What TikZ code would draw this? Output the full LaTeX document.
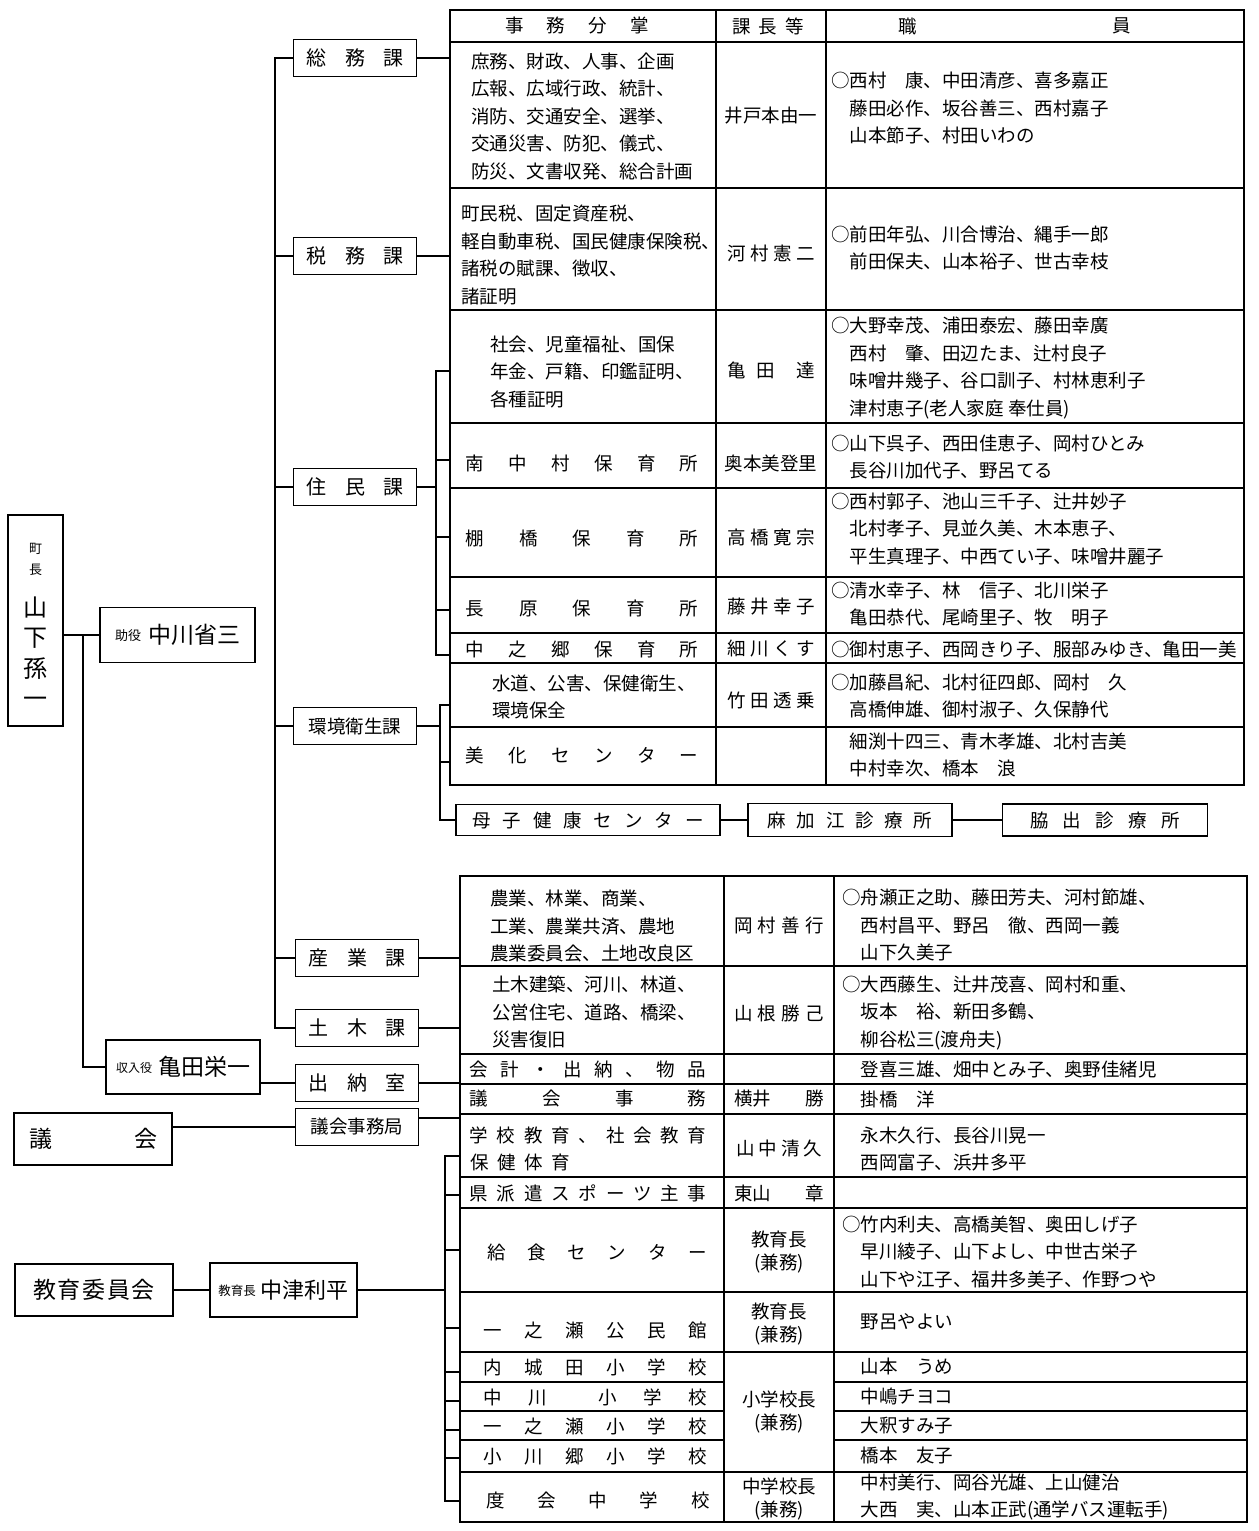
\documentclass[tikz,border=0pt]{standalone}
\usepackage{fontspec}
\setmainfont{Noto Sans CJK JP}
\newcommand\tb{\fontsize{18.5}{27.5}\selectfont}
% spread the characters of #1 over a width #2
\makeatletter
\newcommand\sprd[2]{\makebox[#2][l]{\sprd@a#1\@nil}}
\def\sprd@a#1#2\@nil{#1\ifx\relax#2\relax\else\hfill\sprd@a#2\@nil\fi}
\makeatother
\tikzset{
  ln/.style={line width=1.5pt, line cap=rect},
  box/.style={draw, line width=1.5pt, inner sep=0pt},
  dept/.style={box, minimum width=123, minimum height=37, font=\fontsize{20}{20}\selectfont},
  tx/.style={inner sep=0pt, font=\tb},
  lt/.style={tx, anchor=west, align=left},
  ch/.style={inner sep=0pt, align=center, font=\fontsize{18.5}{23}\selectfont},
}
\begin{document}
\begin{tikzpicture}[x=1pt,y=-1pt]
\useasboundingbox (0,0) rectangle (1258,1531);

% Mayor, deputy, treasurer
\node[box, minimum width=55, minimum height=211] (chocho) at (35.5,620.5) {};
\node[inner sep=0pt, align=center, font=\fontsize{13}{21}\selectfont] (chocho-t) at (35.5,559) {町\\長};
\node[inner sep=0pt, align=center, font=\fontsize{24}{30.5}\selectfont] (chocho-n) at (35.5,652) {山\\下\\孫\\一};
\node[box, minimum width=155, minimum height=55, font=\fontsize{23}{23}\selectfont] (joyaku) at (177.5,635)
  {\raisebox{3pt}{\fontsize{13}{13}\selectfont 助役}\hspace{7pt}中川省三};
\node[box, minimum width=154, minimum height=54, font=\fontsize{23}{23}\selectfont] (shunyu) at (183,1067)
  {\raisebox{3pt}{\fontsize{12}{12}\selectfont 収入役}\hspace{6pt}亀田栄一};
\coordinate (cj) at (83,635);
\draw[ln] (chocho.east |- joyaku.west) -- (joyaku.west);
\draw[ln] (cj) |- (shunyu.west);

% Assembly and board of education
\node[box, minimum width=158, minimum height=52, font=\fontsize{23}{23}\selectfont] (gikai) at (93,1139)
  {\makebox[128pt][l]{議\hfill 会}};
\node[box, minimum width=158, minimum height=52, font=\fontsize{23}{23}\selectfont] (kyoiku) at (94,1290)
  {\sprd{教育委員会}{122pt}};
\node[box, minimum width=147, minimum height=54, font=\fontsize{22}{22}\selectfont] (kyoikucho) at (283.5,1290)
  {\raisebox{3pt}{\fontsize{12.5}{12.5}\selectfont 教育長}\hspace{5pt}中津利平};
\draw[ln] (kyoiku.east) -- (kyoikucho.west);

% Departments
\node[dept] (somu) at (355,58) {\sprd{総務課}{97pt}};
\node[dept] (zeimu) at (355,256) {\sprd{税務課}{97pt}};
\node[dept] (jumin) at (355,487) {\sprd{住民課}{97pt}};
\node[dept, font=\fontsize{18.5}{18.5}\selectfont] (kankyo) at (355,726) {環境衛生課};
\node[dept] (sangyo) at (357,958) {\sprd{産業課}{97pt}};
\node[dept] (doboku) at (357,1028) {\sprd{土木課}{97pt}};
\node[dept] (suito) at (357,1083) {\sprd{出納室}{97pt}};
\node[dept, font=\fontsize{18.5}{18.5}\selectfont] (gjk) at (357,1127) {議会事務局};
\coordinate (spbot) at (275,1028);
\draw[ln] (somu.west) -| (spbot) -- (doboku.west);
\foreach \d in {zeimu,jumin,kankyo,sangyo}
  \draw[ln] (\d.west) -- (\d.west -| spbot);
\draw[ln] (shunyu.east |- suito.west) -- (suito.west);
\draw[ln] (gikai.east |- gjk.west) -- (gjk.west);

% Upper table
\coordinate (up-tl) at (450,10);
\draw[ln] (450,10) rectangle (1244,785);
\foreach \y in {42,188,310,423,488,577,633,663,727}
  \draw[ln] (450,\y) -- (1244,\y);
\draw[ln] (716,10) -- (716,785) (826,10) -- (826,785);

\node[tx] (hd1) at (577,26) {\sprd{事務分掌}{144pt}};
\node[tx] (hd2) at (768,26) {\sprd{課長等}{72pt}};
\node[tx] (hd3) at (908,26) {職};
\node[tx] (hd4) at (1122,26) {員};

\node[lt] (somu-a) at (471,116) {庶務、財政、人事、企画\\広報、広域行政、統計、\\消防、交通安全、選挙、\\交通災害、防犯、儀式、\\防災、文書収発、総合計画};
\node[tx] (somu-b) at (771,116) {井戸本由一};
\node[lt] (somu-c) at (831,108) {○西村　康、中田清彦、喜多嘉正\\　藤田必作、坂谷善三、西村嘉子\\　山本節子、村田いわの};

\node[lt] (zeimu-a) at (461,255) {町民税、固定資産税、\\軽自動車税、国民健康保険税、\\諸税の賦課、徴収、\\諸証明};
\node[tx] (zeimu-b) at (771,253) {\sprd{河村憲二}{88pt}};
\node[lt] (zeimu-c) at (831,248) {○前田年弘、川合博治、縄手一郎\\　前田保夫、山本裕子、世古幸枝};

\node[lt] (jumin-a) at (490,372) {社会、児童福祉、国保\\年金、戸籍、印鑑証明、\\各種証明};
\node[tx] (jumin-b) at (771,370) {\makebox[88pt][l]{亀\hfill 田\hfill\hfill 達}};
\node[lt] (jumin-c) at (831,368) {○大野幸茂、浦田泰宏、藤田幸廣\\　西村　肇、田辺たま、辻村良子\\　味噌井幾子、谷口訓子、村林恵利子\\　津村恵子(老人家庭 奉仕員)};

\node[tx] (hoiku1-a) at (582,463) {\sprd{南中村保育所}{233pt}};
\node[tx] (hoiku1-b) at (771,463) {奥本美登里};
\node[lt] (hoiku1-c) at (831,457) {○山下呉子、西田佳恵子、岡村ひとみ\\　長谷川加代子、野呂てる};

\node[tx] (hoiku2-a) at (582,538) {\sprd{棚橋保育所}{233pt}};
\node[tx] (hoiku2-b) at (771,537) {\sprd{高橋寛宗}{88pt}};
\node[lt] (hoiku2-c) at (831,529) {○西村郭子、池山三千子、辻井妙子\\　北村孝子、見並久美、木本恵子、\\　平生真理子、中西てい子、味噌井麗子};

\node[tx] (hoiku3-a) at (582,608) {\sprd{長原保育所}{233pt}};
\node[tx] (hoiku3-b) at (771,607) {\sprd{藤井幸子}{88pt}};
\node[lt] (hoiku3-c) at (831,604) {○清水幸子、林　信子、北川栄子\\　亀田恭代、尾崎里子、牧　明子};

\node[tx] (hoiku4-a) at (582,649) {\sprd{中之郷保育所}{233pt}};
\node[tx] (hoiku4-b) at (771,649) {\sprd{細川くす}{88pt}};
\node[lt] (hoiku4-c) at (831,649) {○御村恵子、西岡きり子、服部みゆき、亀田一美};

\node[lt] (kankyo-a) at (492,697) {水道、公害、保健衛生、\\環境保全};
\node[tx] (kankyo-b) at (771,700) {\sprd{竹田透乗}{88pt}};
\node[lt] (kankyo-c) at (831,696) {○加藤昌紀、北村征四郎、岡村　久\\　高橋伸雄、御村淑子、久保静代};
\node[tx] (bika-a) at (582,755) {\sprd{美化センター}{233pt}};
\node[lt] (bika-c) at (831,755) {　細渕十四三、青木孝雄、北村吉美\\　中村幸次、橋本　浪};

\draw[ln] (somu.east) -- (somu.east -| up-tl);
\draw[ln] (zeimu.east) -- (zeimu.east -| up-tl);

% 住民課 bracket
\coordinate (jb) at (436,487);
\draw[ln] (jumin.east) -- (jb);
\draw[ln] (436,371) -- (436,655);
\foreach \y in {371,460,537,610,655}
  \draw[ln] (436,\y) -- (450,\y);

% 環境衛生課 bracket and clinics
\node[box, minimum width=264, minimum height=31, font=\tb] (boshi) at (588,820) {\sprd{母子健康センター}{232pt}};
\node[box, minimum width=204, minimum height=33, font=\tb] (makae) at (850,820) {\sprd{麻加江診療所}{165pt}};
\node[box, minimum width=205, minimum height=32, font=\tb] (wakide) at (1105,820) {\sprd{脇出診療所}{150pt}};
\coordinate (kb) at (440,726);
\draw[ln] (kankyo.east) -- (kb);
\draw[ln] (450,705) -| (440,820) -- (boshi.west);
\draw[ln] (440,762) -- (450,762);
\draw[ln] (boshi.east) -- (makae.west);
\draw[ln] (makae.east) -- (wakide.west);

% Lower table
\coordinate (low-tl) at (460,876);
\draw[ln] (460,876) rectangle (1247,1522);
\foreach \y in {966,1054,1084,1114,1177,1208,1292,1352,1472}
  \draw[ln] (460,\y) -- (1247,\y);
\foreach \y in {1382,1411,1440}
  \draw[ln] (460,\y) -- (724,\y) (834,\y) -- (1247,\y);
\draw[ln] (724,876) -- (724,1522) (834,876) -- (834,1522);

\node[lt] (sangyo-a) at (490,926) {農業、林業、商業、\\工業、農業共済、農地\\農業委員会、土地改良区};
\node[tx] (sangyo-b) at (779,925) {\sprd{岡村善行}{90pt}};
\node[lt] (sangyo-c) at (842,925) {○舟瀬正之助、藤田芳夫、河村節雄、\\　西村昌平、野呂　徹、西岡一義\\　山下久美子};

\node[lt] (doboku-a) at (492,1012) {土木建築、河川、林道、\\公営住宅、道路、橋梁、\\災害復旧};
\node[tx] (doboku-b) at (779,1013) {\sprd{山根勝己}{90pt}};
\node[lt] (doboku-c) at (842,1013) {○大西藤生、辻井茂喜、岡村和重、\\　坂本　裕、新田多鶴、\\　柳谷松三(渡舟夫)};

\node[tx] (suito-a) at (588,1069) {\sprd{会計・出納、物品}{237pt}};
\node[lt] (suito-c) at (842,1069) {　登喜三雄、畑中とみ子、奥野佳緒児};

\node[tx] (gikai-a) at (588,1099) {\sprd{議会事務}{237pt}};
\node[tx] (gikai-b) at (779,1099) {\makebox[90pt][l]{横井\hfill 勝}};
\node[lt] (gikai-c) at (842,1099) {　掛橋　洋};

\node[tx] (gakko-a1) at (588,1135) {\sprd{学校教育、社会教育}{237pt}};
\node[tx, anchor=west] (gakko-a2) at (470,1162) {\sprd{保健体育}{100pt}};
\node[tx] (gakko-b) at (779,1148) {\sprd{山中清久}{86pt}};
\node[lt] (gakko-c) at (842,1149) {　永木久行、長谷川晃一\\　西岡富子、浜井多平};

\node[tx] (haken-a) at (588,1193) {\sprd{県派遣スポーツ主事}{237pt}};
\node[tx] (haken-b) at (779,1193) {\makebox[90pt][l]{東山\hfill 章}};

\node[tx] (kyushoku-a) at (597,1252) {\sprd{給食センター}{220pt}};
\node[ch] (kyushoku-b) at (779,1252) {教育長\\(兼務)};
\node[lt] (kyushoku-c) at (842,1252) {○竹内利夫、高橋美智、奥田しげ子\\　早川綾子、山下よし、中世古栄子\\　山下や江子、福井多美子、作野つや};

\node[tx] (kominkan-a) at (595,1330) {\sprd{一之瀬公民館}{223pt}};
\node[ch] (kominkan-b) at (779,1324) {教育長\\(兼務)};
\node[lt] (kominkan-c) at (842,1322) {　野呂やよい};

\node[tx] (sho1-a) at (595,1367) {\sprd{内城田小学校}{223pt}};
\node[tx] (sho2-a) at (595,1397) {\makebox[223pt][l]{中\hfill 川\hfill\hfill 小\hfill 学\hfill 校}};
\node[tx] (sho3-a) at (595,1426) {\sprd{一之瀬小学校}{223pt}};
\node[tx] (sho4-a) at (595,1456) {\sprd{小川郷小学校}{223pt}};
\node[ch] (sho-b) at (779,1412) {小学校長\\(兼務)};
\node[lt] (sho1-c) at (842,1366) {　山本　うめ};
\node[lt] (sho2-c) at (842,1396) {　中嶋チヨコ};
\node[lt] (sho3-c) at (842,1425) {　大釈すみ子};
\node[lt] (sho4-c) at (842,1455) {　橋本　友子};

\node[tx] (chu-a) at (598,1500) {\sprd{度会中学校}{223pt}};
\node[ch] (chu-b) at (779,1499) {中学校長\\(兼務)};
\node[lt] (chu-c) at (842,1497) {　中村美行、岡谷光雄、上山健治\\　大西　実、山本正武(通学バス運転手)};

\draw[ln] (sangyo.east) -- (sangyo.east -| low-tl);
\draw[ln] (doboku.east) -- (doboku.east -| low-tl);
\draw[ln] (suito.east) -- (suito.east -| low-tl);
\draw[ln] ([yshift=9pt]gjk.east) -- ([yshift=9pt]gjk.east -| low-tl);

% education bracket
\coordinate (eb) at (445,1290);
\draw[ln] (kyoikucho.east) -- (eb);
\draw[ln] (445,1156) -- (445,1501);
\foreach \y in {1156,1195,1250,1328,1372,1401,1430,1458,1501}
  \draw[ln] (445,\y) -- (460,\y);
\end{tikzpicture}
\end{document}
